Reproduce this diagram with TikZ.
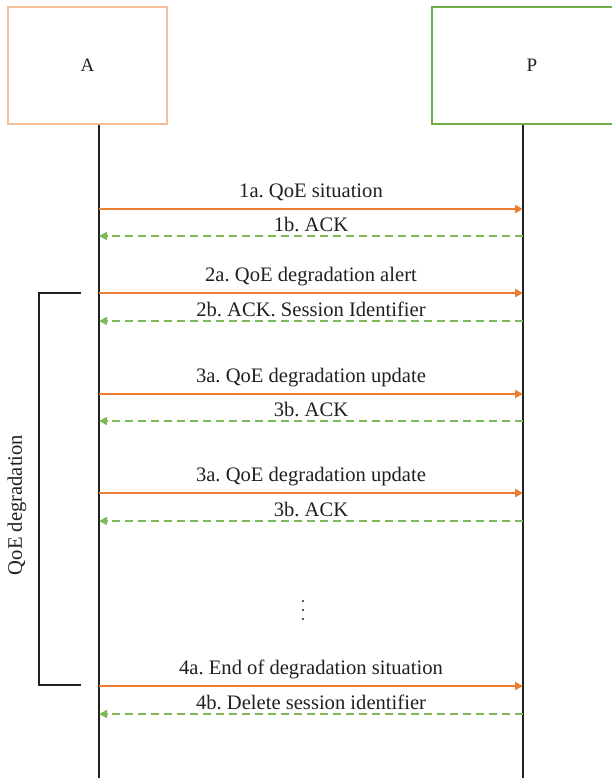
\documentclass[tikz,border=0pt]{standalone}
\usepackage{fontspec}
\setmainfont{Liberation Serif}
\frenchspacing
\usetikzlibrary{arrows.meta}
\definecolor{aorange}{HTML}{F4BE98}
\definecolor{pgreen}{HTML}{70AD47}
\definecolor{msgorange}{HTML}{ED7D31}
\definecolor{ackgreen}{HTML}{7DB956}
\definecolor{lineblack}{HTML}{231F20}
\tikzset{
  x=1pt,y=-1pt,
  actor/.style={line width=2.4pt,minimum height=117pt,inner sep=0pt,font=\fontsize{19}{22}\selectfont,text=lineblack},
  life/.style={draw=lineblack,line width=2.2pt},
  msg/.style={draw=msgorange,line width=2.4pt,-{Triangle[length=8pt,width=8pt]}},
  ack/.style={draw=ackgreen,line width=1.6pt,dash pattern=on 8pt off 5pt,-{Triangle[length=8pt,width=8pt]}},
  lbl/.style={font=\fontsize{20.6}{24}\selectfont,text=lineblack,inner sep=0pt,anchor=base},
  mlbl/.style={lbl,yshift=12pt},
  albl/.style={lbl,yshift=5pt},
  brk/.style={draw=lineblack,line width=2.2pt}
}
\begin{document}
\begin{tikzpicture}
\useasboundingbox (0,0) rectangle (612,778);
\node[actor,draw=aorange,minimum width=159pt] (A) at (87.5,65.5) {A};
\node[actor,draw=pgreen,minimum width=200pt] (P) at (532,65.5) {P};
\coordinate (Aend) at (99,780);
\coordinate (Pend) at (523,780);
\draw[life] (A.south -| Aend) -- (Aend);
\draw[life] (P.south -| Pend) -- (Pend);
% message coordinates
\foreach \n/\y in {m1a/209,m1b/236,m2a/293,m2b/321,m3a/394,m3b/421,m5a/493,m5b/521,m4a/686,m4b/714}{
  \coordinate (\n L) at (99,\y);
  \coordinate (\n R) at (523,\y);
}
\draw[msg] (m1aL) -- node[mlbl] (t1a) {1a. QoE situation} (m1aR);
\draw[ack] (m1bR) -- node[albl] (t1b) {1b. ACK} (m1bL);
\draw[msg] (m2aL) -- node[mlbl] (t2a) {2a. QoE degradation alert} (m2aR);
\draw[ack] (m2bR) -- node[albl] (t2b) {2b. ACK. Session Identifier} (m2bL);
\draw[msg] (m3aL) -- node[mlbl] (t3a) {3a. QoE degradation update} (m3aR);
\draw[ack] (m3bR) -- node[albl] (t3b) {3b. ACK} (m3bL);
\draw[msg] (m5aL) -- node[mlbl] (t5a) {3a. QoE degradation update} (m5aR);
\draw[ack] (m5bR) -- node[albl] (t5b) {3b. ACK} (m5bL);
\draw[msg] (m4aL) -- node[mlbl] (t4a) {4a. End of degradation situation} (m4aR);
\draw[ack] (m4bR) -- node[albl] (t4b) {4b. Delete session identifier} (m4bL);
% dots
\foreach \y in {601,610,619}{\fill[lineblack] (303,\y) circle (1.2pt);}
% bracket
\coordinate (b1) at (81,293);
\coordinate (b2) at (81,685);
\draw[brk] (b1) -- (39,293) -- (39,685) -- (b2);
\node[font=\fontsize{20.6}{24}\selectfont,text=lineblack,rotate=90,inner sep=0pt] (qd) at (17,505) {QoE degradation};
\end{tikzpicture}
\end{document}
